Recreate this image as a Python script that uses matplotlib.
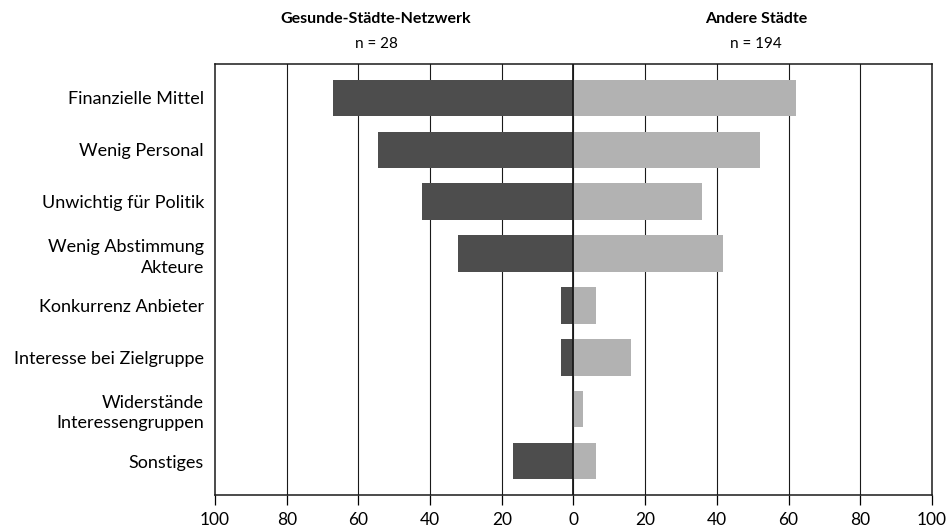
import matplotlib
matplotlib.use('Agg')
import matplotlib.pyplot as plt
import numpy as np

plt.rcParams['font.family'] = ['Lato', 'DejaVu Sans']

categories = ['Finanzielle Mittel', 'Wenig Personal', 'Unwichtig für Politik',
              'Wenig Abstimmung\nAkteure', 'Konkurrenz Anbieter', 'Interesse bei Zielgruppe',
              'Widerstände\nInteressengruppen', 'Sonstiges']
gesunde = [67.2, 54.4, 42.2, 32.3, 3.6, 3.6, 0.0, 16.8]
andere = [62.2, 52.0, 35.9, 41.8, 6.4, 16.1, 2.7, 6.4]
x_ticks = [-100, -80, -60, -40, -20, 0, 20, 40, 60, 80, 100]
x_tick_labels = [str(abs(t)) for t in x_ticks]

DARK = '#4d4d4d'
LIGHT = '#b2b2b2'

fig = plt.figure(figsize=(9.53, 5.28), dpi=100)
ax = fig.add_axes([215 / 953, 1 - 495 / 528, (932 - 215) / 953, (495 - 64) / 528])

y = np.arange(len(categories))
ax.barh(y, [-v for v in gesunde], height=0.7, color=DARK, zorder=2)
ax.barh(y, andere, height=0.7, color=LIGHT, zorder=2)

for t in x_ticks[1:-1]:
    ax.axvline(t, color='#1a1a1a', lw=0.8, zorder=1)
ax.axvline(0, color='#1a1a1a', lw=1.3, zorder=3)

ax.set_xlim(-100, 100)
ax.set_ylim(len(categories) - 0.35, -0.65)
ax.set_xticks(x_ticks, x_tick_labels)
ax.set_yticks(y, categories)
ax.tick_params(axis='x', direction='out', length=7.2, width=0.9, pad=5, labelsize=12.5)
ax.tick_params(axis='y', length=0, pad=8, labelsize=13)
for lab in ax.get_yticklabels():
    lab.set_horizontalalignment('right')
    lab.set_multialignment('right')
    lab.set_linespacing(1.35)

for side in ['left', 'right', 'top', 'bottom']:
    ax.spines[side].set_color('#1a1a1a')
    ax.spines[side].set_linewidth(1.1)

fig.text(376 / 953, 1 - 19 / 528, 'Gesunde-Städte-Netzwerk', ha='center', va='center',
         fontsize=11.5, fontweight='bold')
fig.text(376 / 953, 1 - 43.5 / 528, 'n = 28', ha='center', va='center', fontsize=11)
fig.text(756 / 953, 1 - 19 / 528, 'Andere Städte', ha='center', va='center',
         fontsize=11.5, fontweight='bold')
fig.text(756 / 953, 1 - 43.5 / 528, 'n = 194', ha='center', va='center', fontsize=11)

fig.savefig('out.png', dpi=100)
